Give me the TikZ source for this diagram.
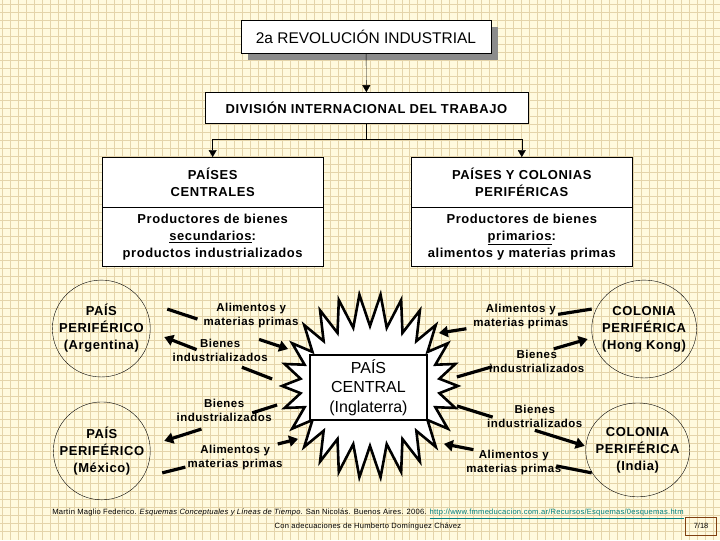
\documentclass[tikz,border=0pt]{standalone}
\usepackage{fontspec}
\setmainfont{Liberation Sans}
\newfontfamily\spaced{Liberation Sans}[LetterSpace=4.5]
\newfontfamily\footfont{Liberation Sans}[LetterSpace=3]
\usetikzlibrary{arrows.meta,positioning,shapes.geometric,shadows,calc}

\definecolor{paper}{RGB}{255,250,222}
\definecolor{gridline}{RGB}{228,212,170}
\definecolor{urlteal}{RGB}{0,128,128}
\definecolor{pagebrown}{RGB}{128,64,16}

\begin{document}
\begin{tikzpicture}[
    x=1pt,
    y=-1pt,
    grd/.style={gridline, line width=0.9pt},
    box/.style={draw, fill=white, thin, align=center, inner sep=2pt},
    boxtxt/.style={font=\spaced\fontsize{13}{17}\selectfont\bfseries},
    cty/.style={draw, thin, ellipse, align=center, inner sep=-14pt, font=\spaced\fontsize{13}{17}\selectfont\bfseries},
    lab/.style={align=center, inner sep=1pt, font=\spaced\fontsize{11.5}{14}\selectfont\bfseries},
    tree/.style={thin, -{Triangle[length=7pt,width=8pt]}},
    flowline/.style={line width=3.2pt},
    flow/.style={flowline, -{Triangle[length=9pt,width=11pt]}},
    burst/.style={draw, fill=white, line width=2.6pt, line join=miter},
    foot/.style={inner sep=0pt, font=\footfont\fontsize{7.6}{9}\selectfont}
  ]
    % squared paper
    \fill[paper] (0,0) rectangle (720,540);
    \foreach \x in {2,10,...,718} {
      \draw[grd] (\x,0) -- (\x,540);
    }
    \foreach \y in {4,12,...,538} {
      \draw[grd] (0,\y) -- (720,\y);
    }
    \useasboundingbox (0,0) rectangle (720,540);

    % upper tree
    \node[box, minimum width=250, minimum height=33, font=\fontsize{15.5}{18}\selectfont,
      drop shadow={shadow xshift=7pt, shadow yshift=-7pt, fill=black!45, opacity=1}]
      (rev) at (366,36.5) {2a REVOLUCIÓN INDUSTRIAL};
    \node[box, boxtxt, minimum width=323, minimum height=31] (div) at (366.5,107.5)
      {DIVISIÓN INTERNACIONAL DEL TRABAJO};
    \draw[tree] (rev) -- (div);

    \node[box, boxtxt, minimum width=221, minimum height=50] (cent) at (212.5,182) {PAÍSES\\CENTRALES};
    \node[box, boxtxt, minimum width=221, minimum height=59, below=0pt of cent] (centd)
      {Productores de bienes\\\underline{secundarios}:\\productos industrializados};
    \node[box, boxtxt, minimum width=221, minimum height=50] (peri) at (522,182) {PAÍSES Y COLONIAS\\PERIFÉRICAS};
    \node[box, boxtxt, minimum width=221, minimum height=59, below=0pt of peri] (perid)
      {Productores de bienes\\\underline{primarios}:\\alimentos y materias primas};
    \draw[tree] (div.south) -- ++(0,16) coordinate (bus) -| (cent.north);
    \draw[tree] (bus) -| (peri.north);

    % countries and colonies
    \node[cty, minimum width=98, minimum height=97] (arg) at (101,328.5) {PAÍS\\PERIFÉRICO\\(Argentina)};
    \node[cty, minimum width=97, minimum height=98] (mex) at (101.5,451) {PAÍS\\PERIFÉRICO\\(México)};
    \node[cty, minimum width=105, minimum height=98] (hk) at (644.5,329) {COLONIA\\PERIFÉRICA\\(Hong Kong)};
    \node[cty, minimum width=104, minimum height=94] (ind) at (638,450) {COLONIA\\PERIFÉRICA\\(India)};

    % central country
    \draw[burst] (458,386) \foreach \k in {1,...,26} {
        -- ({370+70*cos((\k-0.5)*360/26)},{386+60*sin((\k-0.5)*360/26)})
        -- ({370+88*cos(\k*360/26)},{386+92*sin(\k*360/26)})
      } -- cycle;
    \node[draw, fill=white, line width=2.6pt, minimum width=117, minimum height=65, align=center,
      font=\fontsize{16}{19.5}\selectfont] (central) at (368.5,387.5) {PAÍS\\CENTRAL\\(Inglaterra)};

    % trade labels
    \node[lab] (food1) at (251,315) {Alimentos y\\materias primas};
    \node[lab] (goods1) at (220,350) {Bienes\\industrializados};
    \node[lab] (goods2) at (224,410) {Bienes\\industrializados};
    \node[lab] (food2) at (235,458) {Alimentos y\\materias primas};
    \node[lab] (food3) at (521,316) {Alimentos y\\materias primas};
    \node[lab] (goods3) at (537,361) {Bienes\\industrializados};
    \node[lab] (goods4) at (535,416) {Bienes\\industrializados};
    \node[lab] (food4) at (514,463) {Alimentos y\\materias primas};

    \coordinate (ar1s) at (167,309);  \coordinate (ar1e) at (288,349);
    \coordinate (ar2s) at (272,379);  \coordinate (ar2e) at (164,337);
    \coordinate (ar3s) at (277,405);  \coordinate (ar3e) at (164,441);
    \coordinate (ar4s) at (162,473);  \coordinate (ar4e) at (298,439);
    \coordinate (ar5s) at (592,309);  \coordinate (ar5e) at (439,333);
    \coordinate (ar6s) at (457,377);  \coordinate (ar6e) at (588,339);
    \coordinate (ar7s) at (457,406);  \coordinate (ar7e) at (585,446);
    \coordinate (ar8s) at (592,473);  \coordinate (ar8e) at (444,444);

    % each flow is broken where its label sits
    \foreach \i/\p/\q in {1/0.25/0.76, 2/0.28/0.70, 3/0.22/0.67, 4/0.17/0.85,
                          5/0.22/0.82, 6/0.27/0.74, 7/0.28/0.61, 8/0.24/0.80} {
      \draw[flowline] (ar\i s) -- ($(ar\i s)!\p!(ar\i e)$);
      \draw[flow] ($(ar\i s)!\q!(ar\i e)$) -- (ar\i e);
    }

    % source
    \node[foot] (cite) at (368,514) {Martín Maglio Federico. \textit{Esquemas Conceptuales y Líneas de Tiempo}. San Nicolás. Buenos Aires. 2006. \textcolor{urlteal}{\underline{http://www.fmmeducacion.com.ar/Recursos/Esquemas/0esquemas.htm}}};
    \node[foot] (adapt) at (368,527) {Con adecuaciones de Humberto Domínguez Chávez};
    \node[draw=pagebrown, line width=1pt, minimum width=31, minimum height=18, inner sep=0pt,
      font=\fontsize{7.5}{9}\selectfont] (pg) at (701.5,526.5) {7/18};
  \end{tikzpicture}
\end{document}
